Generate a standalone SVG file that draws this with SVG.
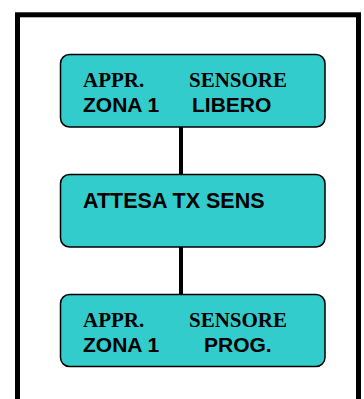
<svg xmlns="http://www.w3.org/2000/svg" width="364" height="399" viewBox="0 0 364 399">
<style>
.box{fill:#33CCCC;stroke:#000;stroke-width:1.5}
.serif{font-family:"Liberation Serif","Times New Roman",serif;font-weight:bold;font-size:21px;fill:#000}
.sans{font-family:"Liberation Sans",Arial,sans-serif;font-weight:bold;font-size:21px;fill:#000}
.conn{stroke:#000;stroke-width:4;fill:none}
</style>
<rect x="17.5" y="14.8" width="341" height="400" fill="#fff" stroke="#000" stroke-width="5"/>
<g id="connectors">
<line class="conn" x1="181" y1="127" x2="181" y2="175"/>
<line class="conn" x1="181" y1="247" x2="181" y2="295"/>
</g>
<g id="node1">
<rect class="box" x="60.5" y="54.5" width="264.5" height="72.5" rx="9"/>
<text class="serif" x="83" y="86.5">APPR.</text>
<text class="serif" x="189" y="86.5">SENSORE</text>
<text class="sans" x="83" y="112">ZONA 1</text>
<text class="sans" x="192" y="112">LIBERO</text>
</g>
<g id="node2">
<rect class="box" x="60.5" y="174.5" width="264.5" height="72.5" rx="9"/>
<text class="sans" x="83" y="207.5" style="font-size:21.5px">ATTESA TX SENS</text>
</g>
<g id="node3">
<rect class="box" x="60.5" y="294.5" width="264.5" height="72" rx="9"/>
<text class="serif" x="83" y="326.5">APPR.</text>
<text class="serif" x="189" y="326.5">SENSORE</text>
<text class="sans" x="83" y="352">ZONA 1</text>
<text class="sans" x="204" y="352">PROG.</text>
</g>
</svg>
